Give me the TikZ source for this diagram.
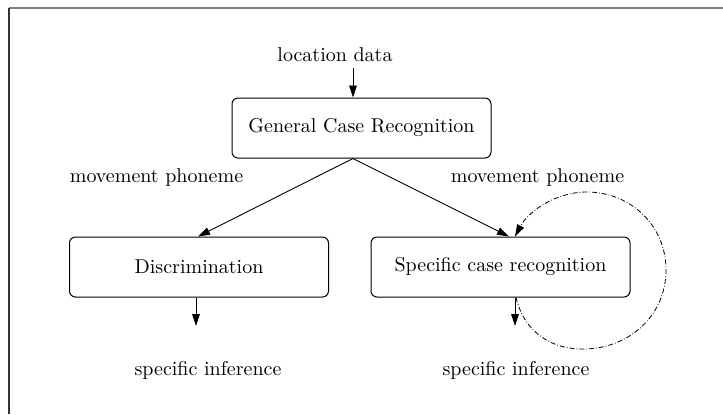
\documentclass[tikz,border=0pt]{standalone}
\usetikzlibrary{arrows.meta}
\begin{document}
\begin{tikzpicture}[x=0.5pt,y=-0.5pt,
  procbox/.style={draw, rounded corners=3pt, line width=0.5pt,
    minimum width=129.5pt, minimum height=30pt, inner sep=0pt},
  lbl/.style={inner sep=0pt},
  flow/.style={-{Triangle[length=6pt,width=3.8pt]}, line width=0.45pt},
  loopline/.style={-{Triangle[length=6pt,width=3.8pt]}, line width=0.4pt,
    dash pattern=on 2.5pt off 1pt on 0.4pt off 1pt}]
\useasboundingbox (0,0) rectangle (723,414);
% frame
\draw[line width=1pt, gray] (9,7.5) -- (723,7.5);
\draw[line width=0.8pt, black!80] (9,7.5) -- (9,414);

% labels
\node[lbl] (loc) at (335,55) {location data};
\node[lbl] (mpl) at (156.5,177) {movement phoneme};
\node[lbl] (mpr) at (537.5,177) {movement phoneme};
\node[lbl] (sil) at (208,370) {specific inference};
\node[lbl] (sir) at (516,370) {specific inference};

% boxes
\node[procbox] (gcr) at (361.5,128) {General Case Recognition\hspace{2pt}};
\node[procbox] (disc) at (199,267) {Discrimination\hspace{5.5pt}};
\node[procbox] (scr) at (500.5,267) {Specific case recognition\hspace{8pt}};

% connector end points
\coordinate (locs) at (353,68);
\coordinate (gcrb) at (gcr.south -| 353,0);
\coordinate (gcrt) at (gcr.north -| 353,0);
\coordinate (disct) at (disc.north -| 198,0);
\coordinate (scrt) at (scr.north -| 509,0);
\coordinate (discb) at (disc.south -| 196,0);
\coordinate (scrb) at (scr.south -| 515,0);
\coordinate (disco) at (196,326);
\coordinate (scro) at (515,326);
\coordinate (loopin) at (scr.north -| 515,0);
\coordinate (loopout) at (scr.south -| 516,0);

\draw[flow] (locs) -- (gcrt);
\draw[flow] (gcrb) -- (disct);
\draw[flow] (gcrb) -- (scrt);
\draw[flow] (discb) -- (disco);
\draw[flow] (scrb) -- (scro);

% self loop on specific case recognition
\draw[loopline] (loopout)
  .. controls (525,335) and (555,350) .. (585,349)
  .. controls (630,348) and (666,315) .. (666,270)
  .. controls (666,225) and (630,192) .. (587,192)
  .. controls (555,192) and (528,212) .. (loopin);
\end{tikzpicture}
\end{document}
